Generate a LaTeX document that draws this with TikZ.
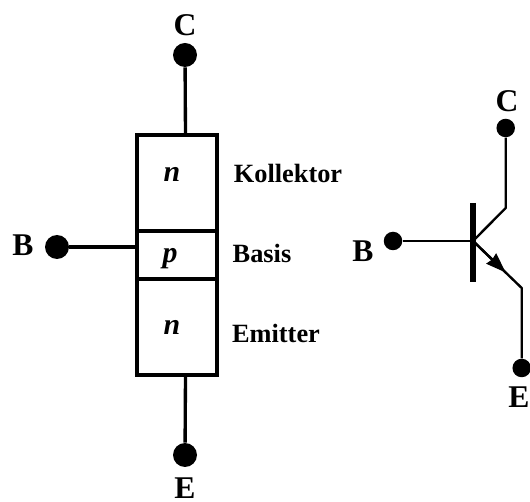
\documentclass[tikz,border=0pt]{standalone}
\usepackage{fontspec}
\setmainfont{Liberation Serif}
\usetikzlibrary{arrows.meta}
\tikzset{
	layerbox/.style={draw,line width=1.9pt,minimum width=1.6cm,inner sep=0pt},
	bigdot/.style={circle,fill=black,inner sep=0pt,minimum size=0.48cm},
	smalldot/.style={circle,fill=black,inner sep=0pt,minimum size=0.37cm},
	termtext/.style={anchor=base,inner sep=0pt,font=\fontsize{18}{18}\selectfont\bfseries},
	regiontext/.style={anchor=base,inner sep=0pt,font=\fontsize{15}{15}\selectfont\bfseries},
	dopetext/.style={anchor=base,inner sep=0pt,font=\fontsize{17}{17}\selectfont\bfseries\itshape},
}
\begin{document}
\begin{tikzpicture}[x=0.02cm,y=-0.02cm]
	\useasboundingbox (0,0) rectangle (530,502);
	% layer stack
	\node[layerbox,minimum height=1.92cm] (koll) at (177,183) {};
	\node[layerbox,minimum height=0.96cm] (basis) at (177,255) {};
	\node[layerbox,minimum height=1.92cm] (emit) at (177,327) {};
	\node[bigdot] (dotC) at (185,55) {};
	\node[bigdot] (dotB) at (57,247) {};
	\node[bigdot] (dotE) at (185,455) {};
	\coordinate (stackC) at (185.5,135);
	\coordinate (stackB) at (137,247);
	\coordinate (stackE) at (185.5,375);
	\draw[line width=1.9pt] (dotC) -- (stackC);
	\draw[line width=1.9pt] (dotB) -- (stackB);
	\draw[line width=1.9pt] (dotE) -- (stackE);
	\node[dopetext] (nC) at (172,182) {n};
	\node[dopetext] (pB) at (170,263) {p};
	\node[dopetext] (nE) at (172,335) {n};
	\node[regiontext] (lblK) at (288,183) {Kollektor};
	\node[regiontext] (lblB) at (262,263) {Basis};
	\node[regiontext] (lblE) at (276,343) {Emitter};
	\node[termtext] (lblC) at (185,36) {C};
	\node[termtext] (lblBl) at (23,256) {B};
	\node[termtext] (lblEl) at (185,498) {E};
	% transistor symbol
	\node[smalldot] (symC) at (505.7,128) {};
	\node[smalldot] (symB) at (393,241) {};
	\node[smalldot] (symE) at (521.7,368) {};
	\coordinate (barT) at (473,203);
	\coordinate (barB) at (473,282);
	\coordinate (joint) at (473,241);
	\coordinate (kneeC) at (505.7,208);
	\coordinate (kneeE) at (521.7,288);
	\coordinate (tipE) at (505.7,272.5);
	\draw[line width=3.4pt] (barT) -- (barB);
	\draw[line width=1.35pt,line join=round] (symC) -- (kneeC) -- (joint);
	\draw[line width=1.35pt] (symB) -- (joint);
	\draw[line width=1.35pt,line join=round] (joint) -- (kneeE) -- (symE);
	\draw[line width=1.35pt,-{Stealth[length=0.4cm,width=0.28cm,inset=0.7pt]}] (joint) -- (tipE);
	\node[termtext] (symlblC) at (507,111.5) {C};
	\node[termtext] (symlblB) at (363,261.5) {B};
	\node[termtext] (symlblE) at (519,408) {E};
\end{tikzpicture}
\end{document}
